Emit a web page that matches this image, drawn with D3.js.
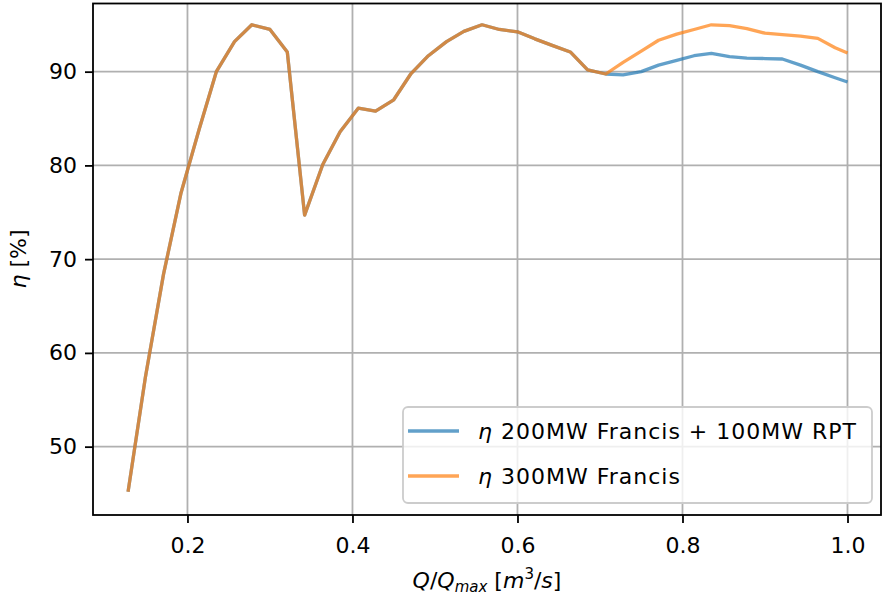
<!DOCTYPE html>
<html>
<head>
<meta charset="utf-8">
<script src="https://cdn.jsdelivr.net/npm/d3@7"></script>
<style>
  html, body { margin: 0; padding: 0; background: #fff; }
  svg { display: block; font-family: "DejaVu Sans", sans-serif; }
</style>
</head>
<body>
<svg id="chart" width="883" height="597"></svg>
<script>
// ---- data ----
const qRatio = [0.128, 0.149, 0.171, 0.192, 0.214, 0.235, 0.257, 0.278, 0.300, 0.321,
                0.342, 0.364, 0.385, 0.407, 0.428, 0.450, 0.471, 0.492, 0.514, 0.535,
                0.557, 0.578, 0.600, 0.621, 0.642, 0.664, 0.685, 0.707, 0.728, 0.750,
                0.771, 0.793, 0.814, 0.835, 0.857, 0.878, 0.900, 0.921, 0.943, 0.964,
                0.985, 1.000];
const etaHybrid = [45.2, 57.4, 68.4, 77.0, 83.8, 90.0, 93.2, 95.0, 94.5, 92.1,
                   74.7, 80.1, 83.6, 86.1, 85.8, 87.0, 89.8, 91.7, 93.2, 94.3,
                   95.0, 94.5, 94.25, 93.5, 92.8, 92.1, 90.2, 89.75, 89.65, 90.0,
                   90.7, 91.2, 91.7, 91.95, 91.6, 91.45, 91.4, 91.35, 90.7, 90.0,
                   89.35, 88.9];
const etaFrancis = [45.2, 57.4, 68.4, 77.0, 83.8, 90.0, 93.2, 95.0, 94.5, 92.1,
                    74.7, 80.1, 83.6, 86.1, 85.8, 87.0, 89.8, 91.7, 93.2, 94.3,
                    95.0, 94.5, 94.25, 93.5, 92.8, 92.1, 90.2, 89.75, 91.0, 92.2,
                    93.35, 94.0, 94.5, 95.0, 94.9, 94.6, 94.1, 93.95, 93.8, 93.55,
                    92.55, 92.0];
const xTicks = [0.2, 0.4, 0.6, 0.8, 1.0];
const yTicks = [50, 60, 70, 80, 90];
const seriesNames = ["200MW Francis + 100MW RPT", "300MW Francis"];
const seriesColors = ["#1f77b4", "#ff7f0e"];

// ---- layout ----
const L = 93, T = 3.5, R = 881, B = 515;
const svg = d3.select("#chart");
const x = d3.scaleLinear().domain([0.0855, 1.0406]).range([L, R]);
const y = d3.scaleLinear().domain([42.71, 97.27]).range([B, T]);

// grid
const grid = svg.append("g");
grid.selectAll("line.gx").data(xTicks).join("line")
  .attr("x1", d => x(d)).attr("x2", d => x(d)).attr("y1", T).attr("y2", B)
  .attr("stroke", "#b0b0b0").attr("stroke-width", 1.8);
grid.selectAll("line.gy").data(yTicks).join("line")
  .attr("y1", d => y(d)).attr("y2", d => y(d)).attr("x1", L).attr("x2", R)
  .attr("stroke", "#b0b0b0").attr("stroke-width", 1.8);

// lines
const line = d3.line().x((d, i) => x(qRatio[i])).y(d => y(d));
[etaHybrid, etaFrancis].forEach((s, k) => {
  svg.append("path").datum(s)
    .attr("d", line)
    .attr("fill", "none")
    .attr("stroke", seriesColors[k])
    .attr("stroke-opacity", 0.7)
    .attr("stroke-width", 3.3)
    .attr("stroke-linejoin", "round")
    .attr("stroke-linecap", "butt");
});

// axes
const fs = 22;
const xAxis = svg.append("g").attr("transform", `translate(0,${B})`)
  .call(d3.axisBottom(x).tickValues(xTicks).tickFormat(d3.format(".1f")).tickSize(8).tickPadding(8));
const yAxis = svg.append("g").attr("transform", `translate(${L},0)`)
  .call(d3.axisLeft(y).tickValues(yTicks).tickFormat(d3.format("d")).tickSize(8).tickPadding(8));
[xAxis, yAxis].forEach(a => {
  a.select(".domain").remove();
  a.selectAll(".tick line").attr("stroke", "#000").attr("stroke-width", 1.8);
  a.selectAll(".tick text").attr("fill", "#000").attr("font-size", fs)
    .attr("font-family", "DejaVu Sans");
});
xAxis.selectAll(".tick text").attr("dy", "1.0em");

// spines
svg.append("rect").attr("x", L).attr("y", T).attr("width", R - L).attr("height", B - T)
  .attr("fill", "none").attr("stroke", "#000").attr("stroke-width", 1.8);

// axis labels
const xl = svg.append("text").attr("x", (L + R) / 2).attr("y", 588)
  .attr("text-anchor", "middle").attr("font-size", fs).attr("fill", "#000");
xl.append("tspan").attr("font-style", "italic").text("Q");
xl.append("tspan").text("/");
xl.append("tspan").attr("font-style", "italic").text("Q");
xl.append("tspan").attr("font-style", "italic").attr("font-size", 15).attr("dy", 4).text("max");
xl.append("tspan").attr("dy", -4).text(" [");
xl.append("tspan").attr("font-style", "italic").text("m");
xl.append("tspan").attr("font-size", 15).attr("dy", -9).text("3");
xl.append("tspan").attr("dy", 9).text("/");
xl.append("tspan").attr("font-style", "italic").text("s");
xl.append("tspan").text("]");

const yl = svg.append("text").attr("transform", "translate(26,259) rotate(-90)")
  .attr("text-anchor", "middle").attr("font-size", fs).attr("fill", "#000");
yl.append("tspan").attr("font-style", "italic").text("η");
yl.append("tspan").text(" [%]");

// legend
const lg = svg.append("g");
lg.append("rect").attr("x", 403).attr("y", 407).attr("width", 469).attr("height", 96)
  .attr("rx", 5).attr("fill", "#fff").attr("fill-opacity", 0.8)
  .attr("stroke", "#cccccc").attr("stroke-width", 1.8);
seriesNames.forEach((name, k) => {
  const cy = 431 + k * 45;
  lg.append("line").attr("x1", 408).attr("x2", 459).attr("y1", cy).attr("y2", cy)
    .attr("stroke", seriesColors[k]).attr("stroke-opacity", 0.7).attr("stroke-width", 3.3);
  const t = lg.append("text").attr("x", 478).attr("y", cy + 8)
    .attr("font-size", fs).attr("fill", "#000").attr("letter-spacing", 1);
  t.append("tspan").attr("font-style", "italic").text("η");
  t.append("tspan").text(" " + name);
});
</script>
</body>
</html>
